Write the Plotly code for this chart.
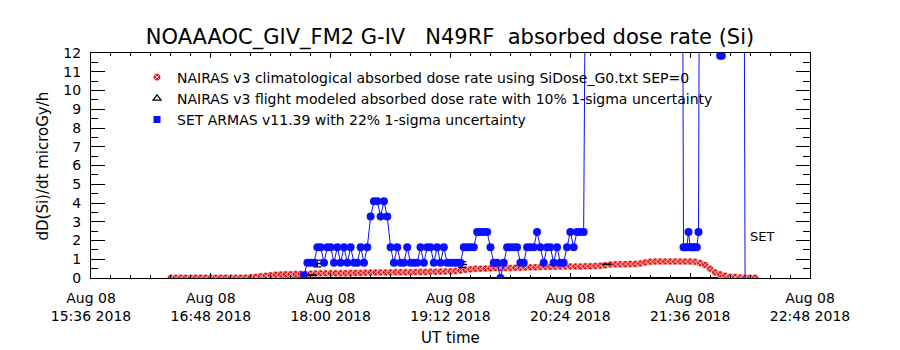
import plotly.graph_objects as go
import pandas as pd

DAY = "2018-08-08"
title_text = "NOAAAOC_GIV_FM2 G-IV   N49RF  absorbed dose rate (Si)"
x_title = "UT time"
y_title = "dD(Si)/dt microGy/h"
set_label = "SET"

x_range = ["15:36", "22:48"]
tick_times = ["15:36", "16:48", "18:00", "19:12", "20:24", "21:36", "22:48"]
tick_labels = ["Aug 08<br>" + t + " 2018" for t in tick_times]
y_ticks = list(range(0, 13))

legend_names = [
    "NAIRAS v3 climatological absorbed dose rate using SiDose_G0.txt SEP=0",
    "NAIRAS v3 flight modeled absorbed dose rate with 10% 1-sigma uncertainty",
    "SET ARMAS v11.39 with 22% 1-sigma uncertainty",
]

# NAIRAS climatological, sampled every 3 minutes starting 16:24
clim_start = "16:24"
clim_step_min = 3
clim_values = [
    0.02, 0.02, 0.02, 0.02, 0.02, 0.02, 0.02, 0.02, 0.02, 0.02,
    0.02, 0.02, 0.02, 0.02, 0.02, 0.02, 0.04, 0.06, 0.09, 0.12,
    0.15, 0.17, 0.19, 0.20, 0.20, 0.21, 0.22, 0.22, 0.23, 0.24,
    0.25, 0.25, 0.25, 0.26, 0.26, 0.26, 0.27, 0.27, 0.27, 0.28,
    0.29, 0.30, 0.30, 0.30, 0.30, 0.31, 0.31, 0.31, 0.31, 0.32,
    0.32, 0.32, 0.33, 0.34, 0.35, 0.35, 0.36, 0.38, 0.40, 0.44,
    0.47, 0.49, 0.50, 0.51, 0.52, 0.53, 0.53, 0.54, 0.54, 0.55,
    0.55, 0.56, 0.57, 0.58, 0.59, 0.60, 0.60, 0.60, 0.61, 0.61,
    0.62, 0.62, 0.62, 0.63, 0.63, 0.64, 0.65, 0.68, 0.72, 0.73,
    0.74, 0.74, 0.75, 0.75, 0.78, 0.83, 0.87, 0.88, 0.88, 0.88,
    0.88, 0.88, 0.88, 0.88, 0.88, 0.87, 0.80, 0.70, 0.50, 0.30,
    0.20, 0.12, 0.07, 0.05, 0.03, 0.02, 0.02, 0.02,
]

# NAIRAS flight modeled
flight_times = ["16:24", "17:00", "17:30", "18:00", "18:30", "19:00", "19:30",
                "20:00", "20:30", "21:00", "21:30", "22:00", "22:15"]
flight_values = [0.0, 0.0, 0.0, 0.0, 0.0, 0.0, 0.0, 0.0, 0.0, 0.0, 0.0, 0.0, 0.0]
flight_err_times = ["17:49", "17:52", "19:19", "20:46"]
flight_err_values = [0.15, 0.77, 0.72, 0.73]
flight_err_sigma = [0.0, 0.18, 0.15, 0.0]

# SET ARMAS, every 2 minutes starting 17:44
armas_start = "17:44"
armas_step_min = 2
armas_values = [
    0.15, 0.82, 0.82, 0.82, 1.64, 1.64, 0.82, 1.64, 1.64, 0.82,
    1.64, 0.82, 1.64, 0.82, 1.64, 0.82, 0.82, 1.64, 0.82, 1.64,
    3.28, 4.10, 4.10, 3.28, 4.10, 3.28, 1.64, 0.82, 1.64, 0.82,
    0.82, 1.64, 0.82, 0.82, 0.82, 1.64, 0.82, 1.64, 1.64, 0.82,
    1.64, 0.82, 1.64, 0.82, 0.82, 0.82, 0.82, 0.82, 1.64, 1.64,
    1.64, 1.64, 2.46, 2.46, 2.46, 2.46, 1.64, 0.82, 0.82, 0.00,
    0.82, 1.64, 1.64, 1.64, 1.64, 0.82, 0.82, 1.64, 1.64, 1.64,
    2.46, 1.64, 0.82, 1.64, 1.64, 0.82, 1.64, 0.82, 0.82, 1.64,
    2.46, 1.64, 2.46, 2.46, 2.46, 30.0,
]
armas_late_times = ["21:31", "21:32", "21:33", "21:34", "21:35", "21:36", "21:37",
                    "21:38", "21:39", "21:40", "21:41", "21:42", "21:53", "21:54",
                    "21:55", "21:56", "22:08", "22:09"]
armas_late_values = [30.0, 1.64, 1.64, 1.64, 2.46, 1.64, 1.64, 1.64, 1.64, 1.64,
                     2.46, 30.0, 30.0, 11.85, 11.85, 30.0, 30.0, -0.4]


def ts(hm):
    return pd.Timestamp(DAY + " " + hm)


clim_x = [ts(clim_start) + pd.Timedelta(minutes=clim_step_min * i) for i in range(len(clim_values))]
armas_x = [ts(armas_start) + pd.Timedelta(minutes=armas_step_min * i) for i in range(len(armas_values))]
armas_x += [ts(t) for t in armas_late_times]
armas_y = armas_values + armas_late_values

RED = "#e01010"
BLUE = "#0a10ff"
FONT = "DejaVu Sans"

fig = go.Figure()

# black flight-modeled baseline
fig.add_trace(go.Scatter(
    x=[ts(t) for t in flight_times], y=flight_values, mode="lines",
    line=dict(color="black", width=2), showlegend=False, hoverinfo="skip"))

# red climatological
fig.add_trace(go.Scatter(
    x=clim_x, y=clim_values, mode="markers",
    marker=dict(symbol="circle-x", size=7, color=RED, line=dict(color="white", width=0.6)),
    showlegend=False))

# black flight modeled points with error bars
fig.add_trace(go.Scatter(
    x=[ts(t) for t in flight_err_times], y=flight_err_values, mode="markers",
    marker=dict(symbol="line-ew", size=7, color="black", line=dict(color="black", width=1.5)),
    error_y=dict(type="data", array=flight_err_sigma, color="black", thickness=1.2, width=4),
    showlegend=False))

# blue ARMAS
fig.add_trace(go.Scatter(
    x=armas_x, y=armas_y, mode="lines+markers",
    line=dict(color=BLUE, width=1),
    marker=dict(symbol="circle", size=8, color=BLUE),
    showlegend=False, cliponaxis=True))

# legend-only entries
fig.add_trace(go.Scatter(x=[None], y=[None], mode="markers", name=legend_names[0],
                         marker=dict(symbol="circle-x", size=8, color=RED, line=dict(color="white", width=1))))
fig.add_trace(go.Scatter(x=[None], y=[None], mode="markers", name=legend_names[1],
                         marker=dict(symbol="triangle-up-open", size=7, color="black", line=dict(width=1.2))))
fig.add_trace(go.Scatter(x=[None], y=[None], mode="markers", name=legend_names[2],
                         marker=dict(symbol="square", size=7, color=BLUE)))

fig.add_annotation(x=ts("22:19"), y=2.2, text=set_label, showarrow=False,
                   font=dict(family=FONT, size=13, color="black"))

# y-axis title as rotated text next to the axis
fig.add_annotation(x=-49 / 719, y=0.5, xref="paper", yref="paper", text=y_title,
                   textangle=-90, showarrow=False, xanchor="center", yanchor="middle",
                   font=dict(family=FONT, size=15, color="black"))
# x-axis title
fig.add_annotation(x=0.5, y=-60 / 225, xref="paper", yref="paper", text=x_title,
                   showarrow=False, xanchor="center", yanchor="middle",
                   font=dict(family=FONT, size=15, color="black"))

fig.update_layout(
    width=900, height=350,
    margin=dict(l=91, r=90, t=53, b=72),
    paper_bgcolor="white", plot_bgcolor="white",
    font=dict(family=FONT, size=13, color="black"),
    title=dict(text=title_text, x=0.5, xanchor="center", y=1 - 37 / 350, yanchor="middle",
               yref="container", font=dict(family=FONT, size=21, color="black")),
    legend=dict(x=0.064, y=0.962, xanchor="left", yanchor="top", bgcolor="rgba(0,0,0,0)",
                font=dict(family=FONT, size=14), itemwidth=30, tracegroupgap=0),
    showlegend=True,
)

fig.update_xaxes(
    type="date", range=[ts(x_range[0]), ts(x_range[1])],
    tickvals=[ts(t) for t in tick_times], ticktext=tick_labels,
    ticks="inside", ticklen=5, tickcolor="black", tickwidth=1,
    minor=dict(ticks="inside", ticklen=3, dtick=12 * 60 * 1000, tickcolor="black"),
    showline=True, linecolor="black", linewidth=1, mirror="allticks",
    showgrid=False, zeroline=False,
    tickfont=dict(family=FONT, size=14), ticklabelstandoff=7,
)
fig.update_yaxes(
    range=[0, 12], tickvals=y_ticks,
    ticks="inside", ticklen=14, tickcolor="black", tickwidth=1,
    minor=dict(ticks="inside", ticklen=7, dtick=0.5, tickcolor="black"),
    showline=True, linecolor="black", linewidth=1, mirror="allticks",
    showgrid=False, zeroline=False,
    tickfont=dict(family=FONT, size=14), ticklabelstandoff=6,
)

fig.write_html("out.html")
